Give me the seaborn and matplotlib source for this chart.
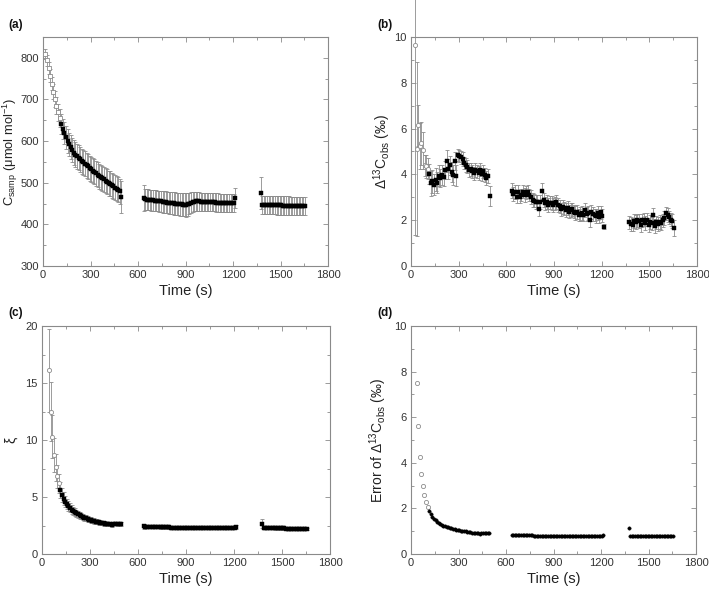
import numpy as np
import pandas as pd
import matplotlib
matplotlib.use("Agg")
import matplotlib.pyplot as plt
import seaborn as sns
from matplotlib.ticker import MultipleLocator

nan = np.nan

# sampling times (s), three measurement windows
t1 = np.arange(15, 500, 10)      # 49 points
t2 = np.arange(635, 1220, 10)    # 59 points
t3 = np.arange(1375, 1660, 10)   # 29 points
time_s = np.concatenate([t1, t2, t3])
open_until = 105   # early points drawn with open symbols

# (a) C_samp (umol/mol)
csamp_1 = [810, 794, 776, 757, 738, 719, 701, 685, 669, 655,
           641, 629, 619, 609, 600, 592, 585, 578, 572, 567,
           563, 560, 556, 552, 549, 545, 542, 539, 535, 532,
           529, 526, 523, 519, 516, 513, 511, 508, 505, 502,
           499, 497, 494, 491, 488, 486, 483, 479, 465]
csamp_2 = [463,
           460, 459.5, 459, 458.5, 458, 457.5, 457, 456.5, 456, 455.5,
           455, 454, 453.5, 453, 452.5, 452, 451.5, 451, 450.5, 450,
           449.5, 449, 448.5, 448, 447.5, 447, 446.5,
           448, 450, 452, 453.5, 454.5, 455, 455, 455, 454.5, 454.5,
           454, 454, 454, 453.5, 453.5, 453, 453, 453, 452.5, 452.5,
           452, 452, 452, 451.5, 451.5, 451, 451, 451, 450.5, 450.5,
           463]
csamp_3 = [475,
           447, 447, 446.5, 446.5, 446.5, 446, 446, 446, 446, 445.5,
           445.5, 445.5, 445.5, 445, 445, 445, 445, 445, 444.5, 444.5,
           444.5, 444.5, 444.5, 444, 444, 444, 444, 444]
csamp_err_1 = [12, 13, 14, 15, 16, 18, 19, 20, 21, 22,
               24, 25, 26, 27, 28, 28, 29, 29, 30, 30,
               30, 30, 30, 30, 30, 30, 30, 30, 30, 30,
               30, 30, 30, 30, 30, 30, 30, 30, 30, 30,
               30, 30, 30, 30, 30, 30, 30, 29, 38]
csamp_err_2 = [31,
               25, 25, 25, 25, 25, 25, 25, 25, 25, 25,
               25, 26, 26, 26, 26, 26, 26, 27, 27, 27,
               27, 27, 28, 28, 28, 28, 28,
               27, 26, 25, 24, 23, 22, 22, 22, 22, 22,
               22, 22, 22, 22, 22, 22, 22, 22, 22, 22,
               22, 22, 22, 22, 22, 22, 22, 22, 22, 22,
               24]
csamp_err_3 = [38,
               22, 22, 22, 22, 22, 22, 22, 22, 22, 22,
               22, 22, 22, 22, 22, 22, 22, 22, 22, 22,
               22, 22, 22, 22, 22, 22, 22, 22]

# (b) Delta13C_obs (permil)
d13_1 = [nan, 9.66, 5.1, 6.15, 5.25, 5.35, 5.05, 4.4, 4.35, 4.25,
         4.02, 3.61, 3.69, 3.55, 3.76, 3.64, 3.95, 3.85, 3.98, 3.88,
         4.2, 4.58, 4.23, 4.39, 4.1, 3.98, 4.58, 3.94, 4.85, 4.81,
         4.74, 4.66, 4.5, 4.42, 4.34, 4.2, 4.23, 4.13, 4.05, 4.2,
         4.13, 4.05, 4.2, 4.0, 4.13, 3.98, 3.83, 3.94, 3.06]
d13_2 = [3.29, 3.13, 3.22, 3.03, 3.25, 3.03, 3.1, 3.25, 3.1, 3.22,
         3.25, 3.1, 3.0, 2.88, 2.85, 2.8, 2.8, 2.47, 2.8, 3.29,
         2.88, 2.74, 2.8, 2.66, 2.76, 2.74, 2.66, 2.74, 2.8, 2.66,
         2.6, 2.47, 2.59, 2.52, 2.45, 2.52, 2.37, 2.45, 2.47, 2.37,
         2.3, 2.37, 2.23, 2.27, 2.33, 2.23, 2.45, 2.26, 2.3, 2.0,
         2.37, 2.26, 2.23, 2.18, 2.3, 2.15, 2.34, 2.2, 1.72]
d13_3 = [1.9, 1.84, 1.8, 1.97, 1.93, 2.0, 1.97, 1.8, 2.0, 2.03,
         1.87, 2.03, 1.8, 1.93, 1.87, 2.23, 1.76, 1.9, 1.84, 1.93,
         1.87, 1.99, 2.09, 2.3, 2.23, 2.12, 2.03, 1.95, 1.64]
d13_err_1 = [nan, 8.3, 3.8, 0.9, 1.0, 0.95, 0.8, 0.45, 0.5, 0.45,
             0.45, 0.55, 0.5, 0.45, 0.5, 0.45, 0.45, 0.4, 0.45, 0.4,
             0.4, 0.47, 0.45, 0.4, 0.45, 0.45, 0.4, 0.45, 0.25, 0.25,
             0.28, 0.3, 0.28, 0.3, 0.28, 0.3, 0.28, 0.3, 0.28, 0.3,
             0.28, 0.3, 0.28, 0.3, 0.28, 0.3, 0.3, 0.3, 0.43]
d13_err_2 = [0.32, 0.3, 0.3, 0.28, 0.3, 0.3, 0.28, 0.3, 0.3, 0.28,
             0.3, 0.28, 0.3, 0.3, 0.28, 0.3, 0.3, 0.3, 0.3, 0.35,
             0.3, 0.28, 0.3, 0.3, 0.28, 0.3, 0.3, 0.28, 0.3, 0.3,
             0.28, 0.3, 0.3, 0.28, 0.3, 0.3, 0.28, 0.3, 0.3, 0.28,
             0.3, 0.3, 0.28, 0.3, 0.3, 0.28, 0.3, 0.3, 0.3, 0.28,
             0.3, 0.3, 0.28, 0.3, 0.3, 0.28, 0.3, 0.3, 0.1]
d13_err_3 = [0.3, 0.3, 0.28, 0.3, 0.3, 0.28, 0.3, 0.3, 0.28, 0.3,
             0.3, 0.28, 0.3, 0.3, 0.28, 0.3, 0.3, 0.28, 0.3, 0.3,
             0.28, 0.3, 0.3, 0.28, 0.3, 0.3, 0.28, 0.3, 0.35]

# (c) xi
xi_1 = [nan, nan, nan, 16.1, 12.5, 10.3, 8.7, 7.6, 6.8, 6.2,
        5.6, 5.15, 4.85, 4.6, 4.4, 4.2, 4.05, 3.9, 3.78, 3.67,
        3.57, 3.48, 3.4, 3.32, 3.25, 3.19, 3.13, 3.07, 3.02, 2.97,
        2.93, 2.89, 2.85, 2.81, 2.78, 2.75, 2.72, 2.69, 2.66, 2.64,
        2.62, 2.6, 2.58, 2.66, 2.67, 2.66, 2.65, 2.64, 2.63]
xi_2 = [2.45,
        2.40, 2.40, 2.39, 2.39, 2.38, 2.38, 2.37, 2.37, 2.36, 2.36,
        2.35, 2.35, 2.34, 2.34, 2.33, 2.33, 2.32, 2.32, 2.31, 2.31,
        2.30, 2.30, 2.30, 2.29, 2.29, 2.29, 2.29, 2.30, 2.31, 2.31,
        2.31, 2.31, 2.31, 2.31, 2.31, 2.30, 2.30, 2.30, 2.30, 2.30,
        2.30, 2.30, 2.30, 2.30, 2.30, 2.30, 2.29, 2.29, 2.29, 2.29,
        2.29, 2.29, 2.29, 2.29, 2.29, 2.29, 2.29,
        2.37]
xi_3 = [2.65,
        2.26, 2.26, 2.26, 2.25, 2.25, 2.25, 2.25, 2.25, 2.24, 2.24,
        2.24, 2.24, 2.24, 2.24, 2.23, 2.23, 2.23, 2.23, 2.23, 2.23,
        2.23, 2.22, 2.22, 2.22, 2.22, 2.22, 2.22, 2.22]
xi_err_1 = [nan, nan, nan, 3.6, 2.6, 1.9, 1.5, 1.2, 1.0, 0.85,
            0.7, 0.62, 0.56, 0.5, 0.46, 0.43, 0.4, 0.38, 0.36, 0.34,
            0.32, 0.31, 0.3, 0.29, 0.28, 0.27, 0.26, 0.25, 0.25, 0.24,
            0.23, 0.23, 0.22, 0.22, 0.21, 0.21, 0.2, 0.2, 0.2, 0.19,
            0.19, 0.18, 0.18, 0.15, 0.15, 0.15, 0.15, 0.15, 0.15]
xi_err_2 = [0.22,
            0.12, 0.12, 0.12, 0.12, 0.12, 0.12, 0.12, 0.12, 0.12, 0.12,
            0.12, 0.12, 0.12, 0.12, 0.12, 0.12, 0.12, 0.12, 0.12, 0.12,
            0.11, 0.11, 0.11, 0.11, 0.11, 0.11, 0.11, 0.11, 0.11, 0.11,
            0.11, 0.11, 0.11, 0.11, 0.11, 0.11, 0.11, 0.11, 0.11, 0.11,
            0.1, 0.1, 0.1, 0.1, 0.1, 0.1, 0.1, 0.1, 0.1, 0.1,
            0.1, 0.1, 0.1, 0.1, 0.1, 0.1, 0.1,
            0.15]
xi_err_3 = [0.4,
            0.1, 0.1, 0.1, 0.1, 0.1, 0.1, 0.1, 0.1, 0.1, 0.1,
            0.1, 0.1, 0.1, 0.1, 0.1, 0.1, 0.1, 0.1, 0.1, 0.1,
            0.1, 0.1, 0.1, 0.1, 0.1, 0.1, 0.1, 0.1]

# (d) error of Delta13C_obs (permil)
d13err_1 = [nan, nan, 7.5, 5.6, 4.25, 3.5, 2.97, 2.57, 2.3, 2.07,
            1.9, 1.75, 1.64, 1.55, 1.47, 1.41, 1.36, 1.32, 1.28, 1.25,
            1.22, 1.19, 1.17, 1.15, 1.13, 1.11, 1.09, 1.07, 1.05, 1.04,
            1.02, 1.01, 1.0, 0.99, 0.97, 0.96, 0.95, 0.94, 0.93, 0.92,
            0.91, 0.90, 0.89, 0.93, 0.93, 0.92, 0.92, 0.91, 0.9]
d13err_2 = [0.85,
            0.83, 0.83, 0.83, 0.83, 0.83, 0.82, 0.82, 0.82, 0.82, 0.82,
            0.82, 0.82, 0.82, 0.81, 0.81, 0.81, 0.81, 0.81, 0.81, 0.81,
            0.81, 0.81, 0.81, 0.80, 0.80, 0.80, 0.80, 0.80, 0.80, 0.80,
            0.80, 0.80, 0.80, 0.80, 0.80, 0.80, 0.80, 0.80, 0.80, 0.80,
            0.80, 0.80, 0.80, 0.80, 0.80, 0.80, 0.80, 0.80, 0.80, 0.80,
            0.80, 0.79, 0.79, 0.79, 0.79, 0.79, 0.79,
            0.83]
d13err_3 = [1.12,
            0.79, 0.79, 0.79, 0.79, 0.79, 0.79, 0.79, 0.79, 0.79, 0.79,
            0.78, 0.78, 0.78, 0.78, 0.78, 0.78, 0.78, 0.78, 0.78, 0.78,
            0.78, 0.78, 0.78, 0.78, 0.78, 0.78, 0.78, 0.78]

sns.set_theme(style="ticks")
plt.rcParams["font.family"] = ["Liberation Sans", "DejaVu Sans"]
plt.rcParams["mathtext.fontset"] = "custom"
plt.rcParams["mathtext.rm"] = "Liberation Sans"
plt.rcParams["mathtext.it"] = "Liberation Sans:italic"

GREY = "#8c8c8c"
SPINE = "#8a8a8a"


def panel(ax, y, err, m_open, m_fill, s_open, s_fill, ylim, ymaj, ymin,
          ylabel, label_x, label_size=10, unclip_first=False):
    df = pd.DataFrame({"t": time_s, "y": np.array(y, dtype=float)})
    if err is not None:
        df["e"] = np.array(err, dtype=float)
        first = df["y"].first_valid_index()
        body = df.drop(index=first) if unclip_first else df
        ax.errorbar(body["t"], body["y"], yerr=body["e"], fmt="none",
                    ecolor=GREY, elinewidth=0.6, capsize=1.6, capthick=0.6,
                    zorder=1)
        if unclip_first:
            eb = ax.errorbar(df.loc[[first], "t"], df.loc[[first], "y"],
                             yerr=df.loc[[first], "e"], fmt="none",
                             ecolor=GREY, elinewidth=0.6, capsize=1.6,
                             capthick=0.6, zorder=1)
            for art in list(eb.lines[1]) + list(eb.lines[2]):
                art.set_clip_on(False)
    early = df[(df["t"] <= open_until) & df["y"].notna()]
    late = df[(df["t"] > open_until) & df["y"].notna()]
    sns.scatterplot(data=early, x="t", y="y", marker=m_open, s=s_open,
                    color="white", edgecolor=GREY, linewidth=0.6, ax=ax,
                    zorder=3)
    sns.scatterplot(data=late, x="t", y="y", marker=m_fill, s=s_fill,
                    color="black", edgecolor="black", linewidth=0.3, ax=ax,
                    zorder=4)
    ax.set_xlim(0, 1800)
    ax.set_ylim(*ylim)
    ax.xaxis.set_major_locator(MultipleLocator(300))
    ax.xaxis.set_minor_locator(MultipleLocator(150))
    ax.yaxis.set_major_locator(MultipleLocator(ymaj))
    ax.yaxis.set_minor_locator(MultipleLocator(ymin))
    ax.tick_params(which="both", direction="in", top=True, right=True,
                   color=SPINE, labelcolor="#333333", width=0.6,
                   labelsize=8, pad=3)
    ax.tick_params(which="major", length=3.5)
    ax.tick_params(which="minor", length=2)
    for sp in ax.spines.values():
        sp.set_color(SPINE)
        sp.set_linewidth(0.8)
    ax.set_xlabel("Time (s)", fontsize=10.5, color="#222222", labelpad=3)
    ax.set_ylabel(ylabel, fontsize=label_size, color="#222222")
    # label_x is where the right-hand edge of the rotated label sits
    ax.yaxis.set_label_coords(label_x, 0.5)


fig = plt.figure(figsize=(7.09, 5.91), dpi=100)
W, H = 709, 591


def add_axes(l, t, r, b):
    return fig.add_axes([l / W, 1 - b / H, (r - l) / W, (b - t) / H])


ax_a = add_axes(43, 37, 328, 266)
ax_b = add_axes(411, 37, 697, 266)
ax_c = add_axes(42, 326, 330, 554)
ax_d = add_axes(411, 326, 696, 554)

panel(ax_a, csamp_1 + csamp_2 + csamp_3,
      csamp_err_1 + csamp_err_2 + csamp_err_3,
      "s", "s", 9, 6, (300, 850), 100, 50,
      r"C$_{\mathrm{samp}}$ (μmol mol$^{-1}$)", -0.079, label_size=9.3)
panel(ax_b, d13_1 + d13_2 + d13_3,
      d13_err_1 + d13_err_2 + d13_err_3,
      "o", "s", 9, 8, (0, 10), 2, 1,
      r"$\Delta^{13}$C$_{\mathrm{obs}}$ (‰)", -0.063, unclip_first=True)
panel(ax_c, xi_1 + xi_2 + xi_3,
      xi_err_1 + xi_err_2 + xi_err_3,
      "o", "s", 9, 6, (0, 20), 5, 2.5, "ξ", -0.085)
panel(ax_d, d13err_1 + d13err_2 + d13err_3, None,
      "o", "o", 9, 6, (0, 10), 2, 1,
      r"Error of $\Delta^{13}$C$_{\mathrm{obs}}$ (‰)", -0.077)

for lab, x, y in [("(a)", 8, 25), ("(b)", 377, 25), ("(c)", 8, 313),
                  ("(d)", 377, 313)]:
    fig.text(x / W, 1 - y / H, lab, fontsize=8.5, fontweight="bold",
             va="center", ha="left", color="#111111")

fig.savefig("out.png", dpi=100)
